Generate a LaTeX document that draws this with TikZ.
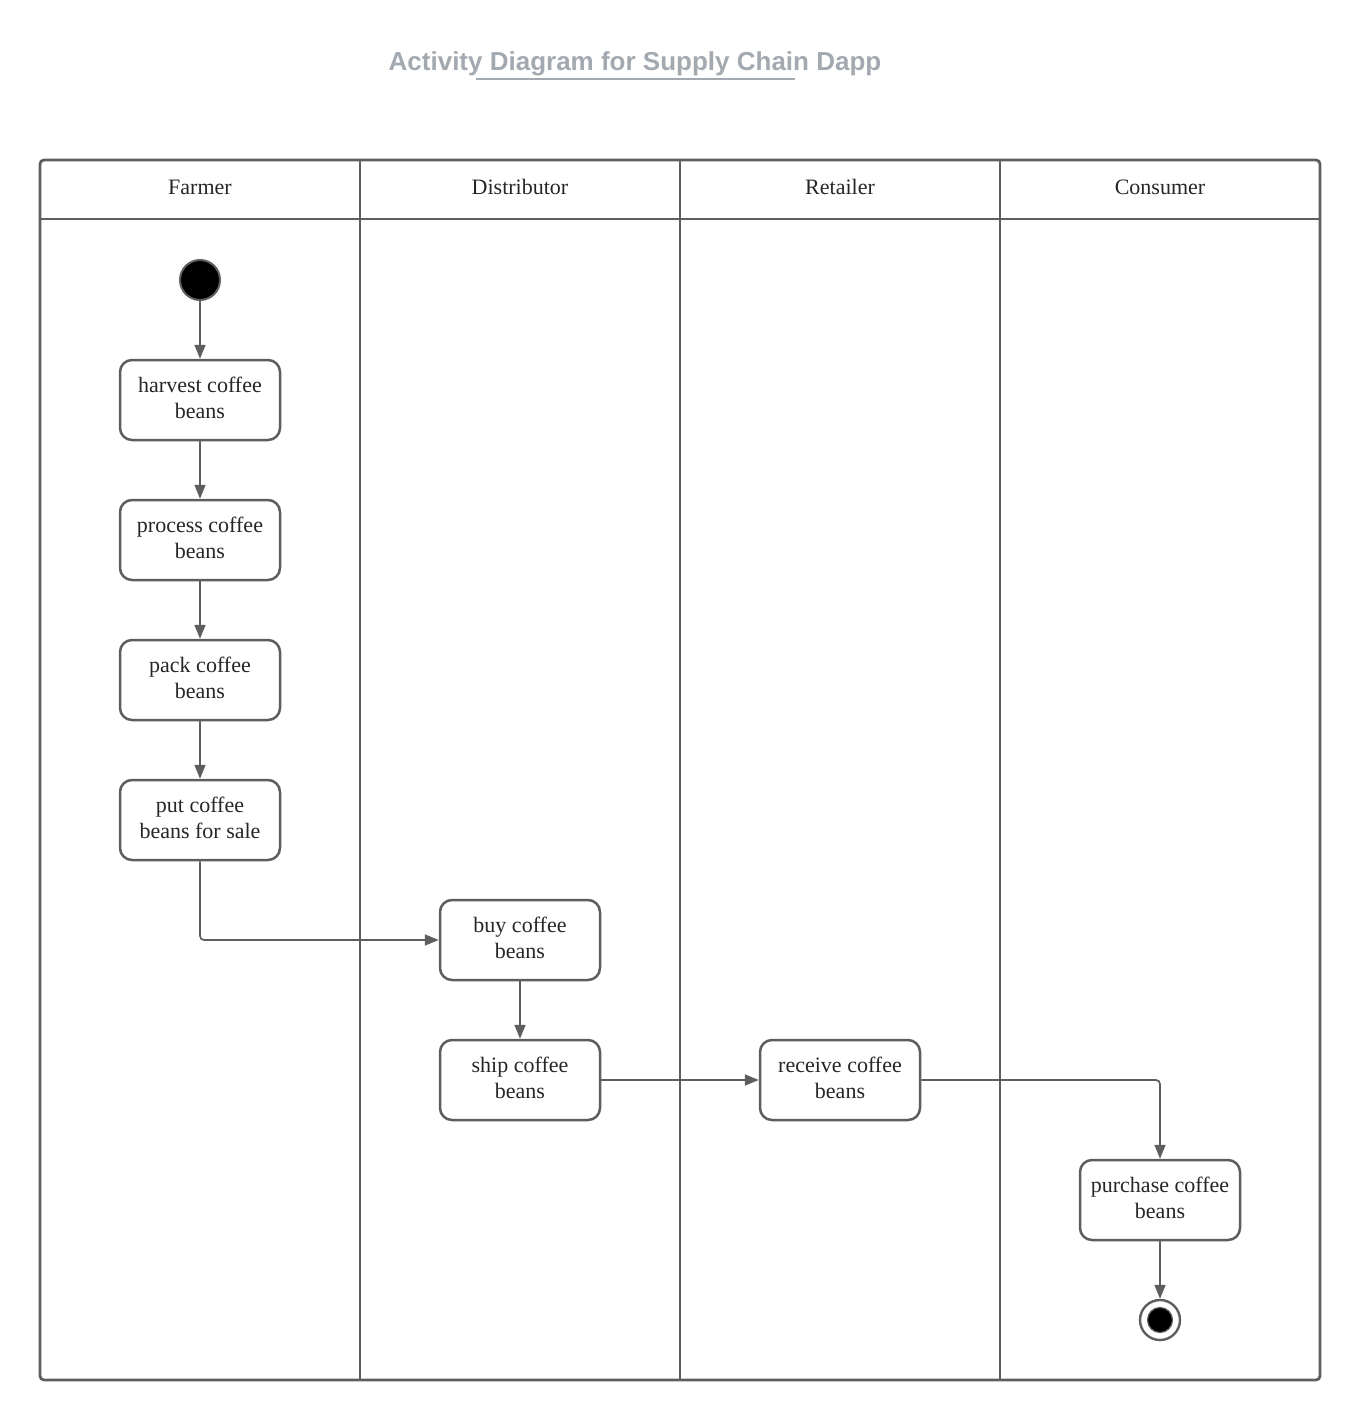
\documentclass[tikz,border=0pt]{standalone}
\usepackage{fontspec}
\setmainfont{Liberation Serif}
\newfontfamily\titlefont{Liberation Sans}
\usetikzlibrary{arrows.meta}
\definecolor{linegrey}{HTML}{5E5E5E}
\definecolor{titlegrey}{HTML}{A3A9B1}
\begin{document}
\begin{tikzpicture}[x=1pt,y=-1pt,
  lane/.style={draw=linegrey,line width=2.8pt},
  actiontext/.style={align=center,inner sep=0pt,yshift=2pt,
    font=\fontsize{22}{26}\selectfont,text=black!85},
  action/.style={draw=linegrey,line width=2.5pt,rounded corners=12pt,fill=white,
    minimum width=160pt,minimum height=80pt,inner sep=0pt,
    label={[actiontext]center:{#1}}},
  lanelabel/.style={font=\fontsize{22}{26}\selectfont,text=black!85},
  flow/.style={draw=linegrey,line width=1.7pt,rounded corners=4pt,
    -{Triangle[length=14pt,width=11pt]}},
]
\useasboundingbox (0,0) rectangle (1360,1420);

% title
\node (title) at (635,64) {\titlefont\bfseries\fontsize{26}{30}\selectfont\color{titlegrey}Activity Diagram for Supply Chain Dapp};
\draw[titlegrey,line width=1.3pt] (476,79) -- (795,79);

% swimlanes
\draw[lane,rounded corners=4pt] (40,160) rectangle (1320,1380);
\draw[lane] (40,219) -- (1320,219);
\foreach \x in {360,680,1000} \draw[lane] (\x,160) -- (\x,1380);
\node[lanelabel] (lfarmer) at (200,187) {Farmer};
\node[lanelabel] (ldist) at (520,187) {Distributor};
\node[lanelabel] (lretail) at (840,187) {Retailer};
\node[lanelabel] (lcons) at (1160,187) {Consumer};

% start and end
\node[circle,fill=black,draw=linegrey,line width=2pt,minimum size=40pt,inner sep=0pt] (start) at (200,280) {};
\node[circle,draw=linegrey,line width=2.4pt,fill=white,minimum size=40pt,inner sep=0pt] (end) at (1160,1320) {};
\node[circle,fill=black,draw=linegrey,line width=1.2pt,minimum size=25pt,inner sep=0pt] (endcore) at (1160,1320) {};

% actions
\node[action={harvest coffee\\beans}] (harvest) at (200,400) {};
\node[action={process coffee\\beans}] (process) at (200,540) {};
\node[action={pack coffee\\beans}] (pack) at (200,680) {};
\node[action={put coffee\\beans for sale}] (put) at (200,820) {};
\node[action={buy coffee\\beans}] (buy) at (520,940) {};
\node[action={ship coffee\\beans}] (ship) at (520,1080) {};
\node[action={receive coffee\\beans}] (receive) at (840,1080) {};
\node[action={purchase coffee\\beans}] (purchase) at (1160,1200) {};

% flows
\draw[flow] (start) -- (harvest);
\draw[flow] (harvest) -- (process);
\draw[flow] (process) -- (pack);
\draw[flow] (pack) -- (put);
\draw[flow] (put) |- (buy);
\draw[flow] (buy) -- (ship);
\draw[flow] (ship) -- (receive);
\draw[flow] (receive) -| (purchase);
\draw[flow] (purchase) -- (end);
\end{tikzpicture}
\end{document}
